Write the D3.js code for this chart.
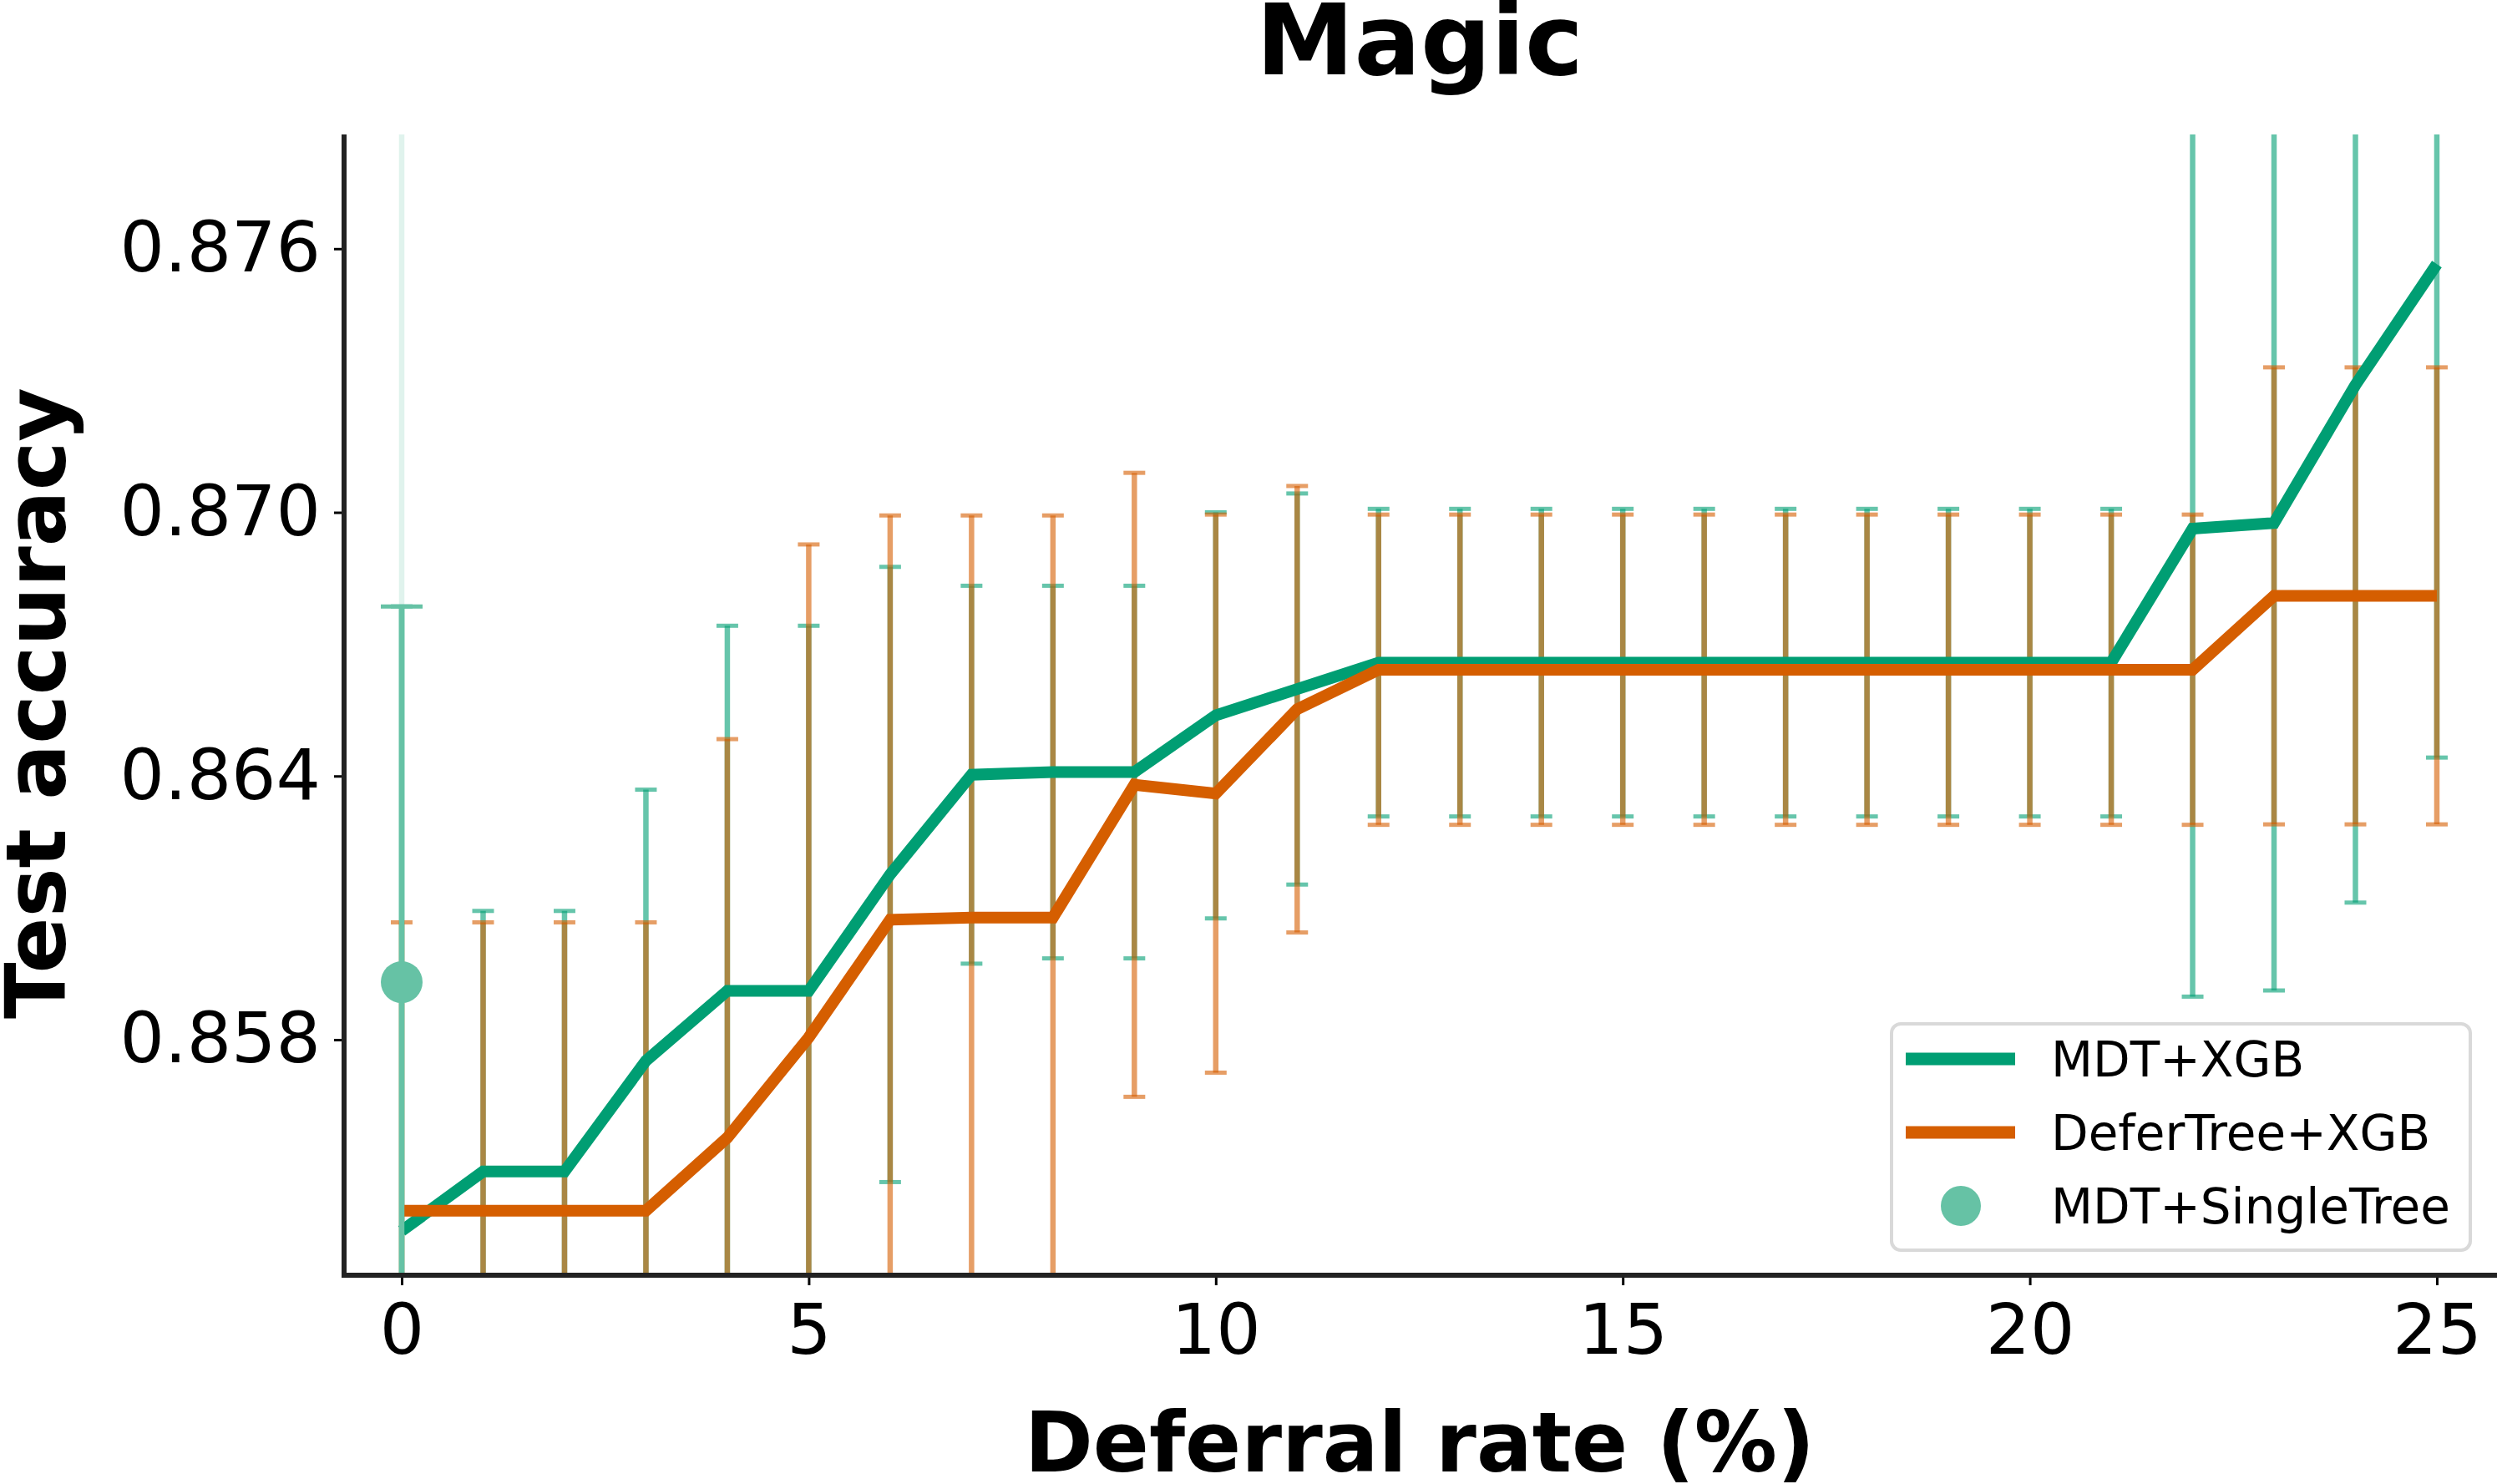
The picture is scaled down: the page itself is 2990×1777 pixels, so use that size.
<!DOCTYPE html>
<meta charset="utf-8">
<title>Magic</title>
<style>
body { margin: 0; background: #fff; }
svg text { font-family: "DejaVu Sans", sans-serif; }
</style>
<body>
<svg></svg>
<script src="https://d3js.org/d3.v7.min.js"></script>
<script>

var width = 2990,
    height = 1777;

// deferral rate (%)
var rates = [0, 1, 2, 3, 4, 5, 6, 7, 8, 9, 10, 11, 12, 13, 14, 15, 16, 17, 18, 19, 20, 21, 22, 23, 24, 25];

// MDT+XGB
var mdtMean = [0.85365, 0.8550, 0.8550, 0.85752, 0.85911, 0.85911, 0.86176, 0.86403, 0.86409, 0.86409,
               0.86538, 0.86598, 0.86658, 0.86658, 0.86658, 0.86658, 0.86658, 0.86658, 0.86658, 0.86658,
               0.86658, 0.86658, 0.86963, 0.86976, 0.87290, 0.87565];
var mdtErr = [0.01421, 0.00593, 0.00593, 0.00617, 0.00831, 0.00831, 0.00700, 0.00430, 0.00424, 0.00424,
              0.00462, 0.00445, 0.00350, 0.00350, 0.00350, 0.00350, 0.00350, 0.00350, 0.00350, 0.00350,
              0.00350, 0.00350, 0.01065, 0.01064, 0.01178, 0.01123];

// DeferTree+XGB
var deferMean = [0.85411, 0.85411, 0.85411, 0.85411, 0.85577, 0.85805, 0.86073, 0.86078, 0.86078, 0.86380,
                 0.86360, 0.86552, 0.86642, 0.86642, 0.86642, 0.86642, 0.86642, 0.86642, 0.86642, 0.86642,
                 0.86642, 0.86642, 0.86642, 0.86810, 0.86810, 0.86810];
var deferErr = [0.00656, 0.00656, 0.00656, 0.00656, 0.00907, 0.01122, 0.00920, 0.00915, 0.00915, 0.00710,
                0.00635, 0.00508, 0.00353, 0.00353, 0.00353, 0.00353, 0.00353, 0.00353, 0.00353, 0.00353,
                0.00353, 0.00353, 0.00353, 0.00520, 0.00520, 0.00520];

// MDT+SingleTree (single point)
var singleRate = [0];
var singleMean = [0.85931];
var singleErr = [0.00855];
var singleLow = [0.84];
var singleHigh = [0.89];

var xTicks = [0, 5, 10, 15, 20, 25],
    yTicks = [0.858, 0.864, 0.870, 0.876];

var green = "#009e73",
    orange = "#d55e00",
    teal = "#66c2a5";

var plotLeft = 412, plotTop = 161, plotRight = 2994, plotBottom = 1527;

var svg = d3.select("svg").attr("width", width).attr("height", height);

var x = d3.scaleLinear().domain([-0.708, 25.78]).range([plotLeft, plotRight]),
    y = d3.scaleLinear().domain([0.85264, 0.8786]).range([plotBottom, plotTop]);

svg.append("defs").append("clipPath").attr("id", "plot-clip")
    .append("rect").attr("x", plotLeft).attr("y", plotTop)
    .attr("width", plotRight - plotLeft).attr("height", plotBottom - plotTop);

var plot = svg.append("g").attr("clip-path", "url(#plot-clip)");

function draw_errorbars(layer, means, errs, color, opacity, capHalf, lineW, capW) {
    var g = layer.append("g").attr("stroke", color).attr("stroke-opacity", opacity);
    var data = means.map(function(m, i) { return {r: rates[i], m: m, e: errs[i]}; });
    g.selectAll("line.bar").data(data).enter().append("line")
        .attr("class", "bar")
        .attr("x1", d => x(d.r)).attr("x2", d => x(d.r))
        .attr("y1", d => y(d.m - d.e)).attr("y2", d => y(d.m + d.e))
        .attr("stroke-width", lineW);
    [-1, 1].forEach(function(s) {
        g.selectAll("line.cap" + (s > 0 ? "t" : "b")).data(data).enter().append("line")
            .attr("class", "cap" + (s > 0 ? "t" : "b"))
            .attr("x1", d => x(d.r) - capHalf).attr("x2", d => x(d.r) + capHalf)
            .attr("y1", d => y(d.m + s * d.e)).attr("y2", d => y(d.m + s * d.e))
            .attr("stroke-width", capW);
    });
}

// light range line behind the single tree point
plot.selectAll("line.range").data(singleRate).enter().append("line")
    .attr("class", "range")
    .attr("x1", d => x(d)).attr("x2", d => x(d))
    .attr("y1", (d, i) => y(singleLow[i])).attr("y2", (d, i) => y(singleHigh[i]))
    .attr("stroke", teal).attr("stroke-opacity", 0.2).attr("stroke-width", 6.5);

draw_errorbars(plot, mdtMean, mdtErr, green, 0.6, 13, 6.5, 5);
draw_errorbars(plot, deferMean, deferErr, orange, 0.6, 13, 6.5, 5);

var line = d3.line().x((d, i) => x(rates[i])).y(d => y(d));

plot.append("path").datum(mdtMean).attr("d", line)
    .attr("fill", "none").attr("stroke", green).attr("stroke-width", 14);
plot.append("path").datum(deferMean).attr("d", line)
    .attr("fill", "none").attr("stroke", orange).attr("stroke-width", 14);

// single tree point with its error bar
var single = plot.append("g");
single.selectAll("line.bar").data(singleRate).enter().append("line")
    .attr("class", "bar")
    .attr("x1", d => x(d)).attr("x2", d => x(d))
    .attr("y1", (d, i) => y(singleMean[i] - singleErr[i])).attr("y2", (d, i) => y(singleMean[i] + singleErr[i]))
    .attr("stroke", teal).attr("stroke-width", 6.5);
single.selectAll("line.cap").data(singleRate).enter().append("line")
    .attr("class", "cap")
    .attr("x1", d => x(d) - 25).attr("x2", d => x(d) + 25)
    .attr("y1", (d, i) => y(singleMean[i] + singleErr[i])).attr("y2", (d, i) => y(singleMean[i] + singleErr[i]))
    .attr("stroke", teal).attr("stroke-width", 5);
single.selectAll("circle").data(singleRate).enter().append("circle")
    .attr("cx", d => x(d)).attr("cy", (d, i) => y(singleMean[i])).attr("r", 25)
    .attr("fill", teal);

// axes
var xAxis = svg.append("g").attr("transform", "translate(0," + plotBottom + ")")
    .call(d3.axisBottom(x).tickValues(xTicks).tickSize(12).tickPadding(22).tickFormat(d3.format("d")));
var yAxis = svg.append("g").attr("transform", "translate(" + plotLeft + ",0)")
    .call(d3.axisLeft(y).tickValues(yTicks).tickSize(12).tickPadding(16).tickFormat(d3.format(".3f")));

[xAxis, yAxis].forEach(function(a) {
    a.select(".domain").remove();
    a.selectAll(".tick line").attr("stroke", "#000").attr("stroke-width", 3);
    a.selectAll(".tick text").attr("fill", "#000").style("font-size", "84px");
});

svg.append("line").attr("x1", plotLeft).attr("x2", plotLeft).attr("y1", plotTop).attr("y2", plotBottom + 3)
    .attr("stroke", "#222").attr("stroke-width", 6);
svg.append("line").attr("x1", plotLeft - 3).attr("x2", width).attr("y1", plotBottom).attr("y2", plotBottom)
    .attr("stroke", "#222").attr("stroke-width", 6);

// labels
svg.append("text").attr("x", 1700).attr("y", 89).attr("text-anchor", "middle")
    .style("font-size", "118px").style("font-weight", "bold").text("Magic");
svg.append("text").attr("x", 1700).attr("y", 1762).attr("text-anchor", "middle")
    .style("font-size", "99px").style("font-weight", "bold").text("Deferral rate (%)");
svg.append("text").attr("transform", "translate(78," + ((plotTop + plotBottom) / 2 - 2) + ") rotate(-90)")
    .attr("text-anchor", "middle")
    .style("font-size", "99px").style("font-weight", "bold").text("Test accuracy");

// legend
var legend = svg.append("g").attr("transform", "translate(2265,1226)");
legend.append("rect").attr("width", 693).attr("height", 271).attr("rx", 11)
    .attr("fill", "#fff").attr("fill-opacity", 0.8).attr("stroke", "#d9d9d9").attr("stroke-width", 4);

var legendItems = [
    {label: "MDT+XGB", color: green, kind: "line"},
    {label: "DeferTree+XGB", color: orange, kind: "line"},
    {label: "MDT+SingleTree", color: teal, kind: "dot"}
];
var rows = legend.selectAll("g.row").data(legendItems).enter().append("g")
    .attr("class", "row")
    .attr("transform", (d, i) => "translate(0," + (42 + i * 88) + ")");
rows.filter(d => d.kind == "line").append("line")
    .attr("x1", 17).attr("x2", 148).attr("stroke", d => d.color).attr("stroke-width", 15);
rows.filter(d => d.kind == "dot").append("circle")
    .attr("cx", 83).attr("r", 24).attr("fill", d => d.color);
rows.append("text").attr("x", 191).attr("dy", "0.36em")
    .style("font-size", "58px").text(d => d.label);

</script>
